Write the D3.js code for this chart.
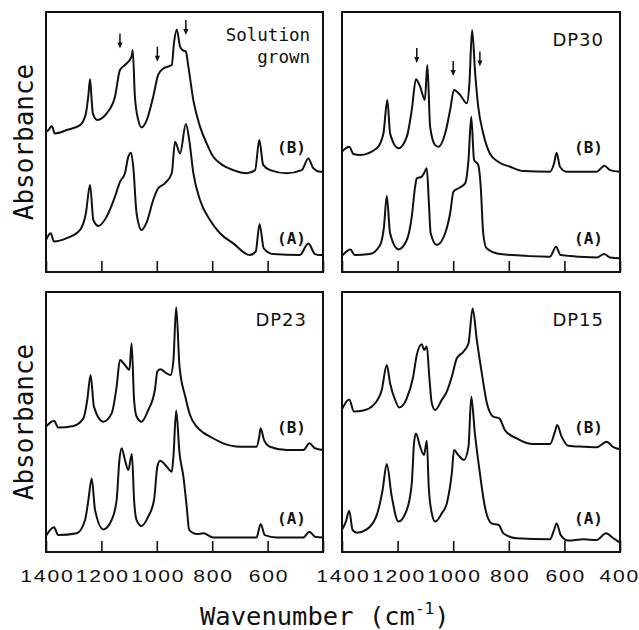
<!DOCTYPE html>
<html>
<head>
<meta charset="utf-8">
<script src="https://cdn.jsdelivr.net/npm/d3@7/dist/d3.min.js"></script>
<style>
  html, body { margin: 0; padding: 0; background: #fff; }
  svg { display: block; }
</style>
</head>
<body>
<svg id="chart" width="639" height="630"></svg>
<script>
// IR spectra, [wavenumber (cm-1), absorbance (arbitrary units)]
const wavenumberTicks = [1400, 1200, 1000, 800, 600, 400];

const solutionB = [[1400,0.54],[1392,0.545],[1379,0.562],[1368,0.533],[1325,0.546],[1277,0.565],[1256,0.61],[1247,0.68],[1241,0.741],[1235,0.66],[1231,0.61],[1215,0.585],[1181,0.61],[1151,0.674],[1133,0.777],[1115,0.796],[1091,0.828],[1087,0.854],[1079,0.674],[1067,0.585],[1055,0.556],[1036,0.585],[1013,0.674],[995,0.758],[976,0.783],[946,0.796],[938,0.88],[928,0.933],[916,0.867],[907,0.854],[895,0.847],[886,0.79],[868,0.66],[844,0.559],[820,0.495],[796,0.443],[772,0.418],[724,0.392],[675,0.38],[645,0.392],[630,0.508],[616,0.412],[591,0.392],[531,0.38],[477,0.392],[453,0.437],[435,0.399],[411,0.386],[400,0.386]];
const solutionA = [[1400,0.123],[1383,0.149],[1371,0.117],[1325,0.13],[1277,0.162],[1256,0.226],[1241,0.335],[1229,0.2],[1211,0.177],[1181,0.213],[1151,0.29],[1133,0.347],[1115,0.38],[1103,0.443],[1093,0.459],[1085,0.405],[1073,0.226],[1055,0.162],[1036,0.193],[1013,0.277],[995,0.322],[971,0.341],[946,0.38],[934,0.501],[916,0.456],[895,0.569],[883,0.508],[868,0.38],[844,0.277],[808,0.2],[772,0.149],[724,0.11],[664,0.065],[643,0.078],[629,0.185],[614,0.091],[580,0.069],[484,0.065],[453,0.11],[429,0.069],[411,0.065],[400,0.065]];

const dp30B = [[1400,0.463],[1374,0.482],[1359,0.454],[1335,0.45],[1275,0.476],[1251,0.533],[1237,0.662],[1227,0.533],[1197,0.476],[1167,0.52],[1149,0.623],[1134,0.741],[1119,0.713],[1102,0.662],[1093,0.796],[1083,0.559],[1065,0.488],[1053,0.482],[1029,0.533],[1011,0.623],[997,0.7],[975,0.681],[951,0.649],[942,0.72],[932,0.931],[921,0.764],[910,0.636],[892,0.533],[868,0.456],[838,0.424],[796,0.405],[748,0.388],[652,0.386],[637,0.418],[628,0.459],[616,0.405],[592,0.386],[484,0.386],[456,0.409],[436,0.392],[400,0.386]];
const dp30A = [[1400,0.062],[1370,0.087],[1354,0.065],[1300,0.069],[1263,0.104],[1249,0.174],[1239,0.292],[1227,0.149],[1197,0.087],[1167,0.123],[1149,0.213],[1137,0.328],[1131,0.36],[1113,0.367],[1105,0.38],[1095,0.399],[1088,0.277],[1081,0.149],[1059,0.104],[1029,0.149],[1011,0.226],[999,0.309],[981,0.322],[957,0.341],[945,0.431],[935,0.597],[925,0.431],[910,0.412],[901,0.328],[892,0.149],[880,0.091],[832,0.069],[652,0.059],[630,0.097],[614,0.065],[484,0.056],[457,0.069],[436,0.056],[400,0.053]];

const dp23B = [[1400,0.482],[1371,0.505],[1356,0.479],[1301,0.485],[1265,0.514],[1251,0.585],[1239,0.681],[1227,0.559],[1193,0.501],[1163,0.533],[1145,0.636],[1133,0.738],[1115,0.719],[1099,0.7],[1091,0.803],[1082,0.585],[1073,0.521],[1055,0.501],[1031,0.546],[1007,0.623],[998,0.694],[988,0.703],[964,0.687],[950,0.681],[940,0.738],[930,0.941],[918,0.713],[897,0.597],[880,0.527],[856,0.482],[832,0.459],[808,0.444],[760,0.418],[700,0.405],[640,0.405],[630,0.444],[625,0.476],[613,0.431],[592,0.405],[531,0.392],[471,0.392],[449,0.418],[429,0.399],[400,0.392]];
const dp23A = [[1400,0.062],[1371,0.095],[1356,0.065],[1289,0.072],[1259,0.123],[1247,0.2],[1235,0.283],[1223,0.162],[1193,0.087],[1163,0.123],[1145,0.2],[1135,0.354],[1127,0.399],[1115,0.354],[1103,0.315],[1090,0.377],[1082,0.2],[1073,0.123],[1055,0.1],[1031,0.136],[1010,0.2],[998,0.328],[988,0.351],[964,0.328],[946,0.309],[940,0.367],[930,0.544],[918,0.38],[904,0.29],[892,0.174],[883,0.085],[856,0.069],[832,0.072],[796,0.056],[640,0.056],[625,0.108],[610,0.065],[568,0.056],[471,0.056],[449,0.078],[429,0.059],[400,0.056]];

const dp15B = [[1400,0.549],[1374,0.587],[1357,0.54],[1323,0.544],[1287,0.565],[1257,0.623],[1239,0.719],[1227,0.649],[1209,0.585],[1194,0.556],[1167,0.591],[1144,0.674],[1131,0.758],[1113,0.799],[1105,0.777],[1095,0.79],[1086,0.674],[1077,0.572],[1065,0.546],[1041,0.585],[1023,0.617],[1005,0.674],[987,0.745],[963,0.771],[945,0.803],[930,0.937],[915,0.815],[897,0.687],[880,0.578],[856,0.521],[834,0.514],[814,0.469],[772,0.437],[712,0.415],[652,0.415],[634,0.463],[626,0.488],[610,0.444],[586,0.409],[532,0.405],[484,0.403],[448,0.424],[424,0.403],[400,0.395]];
const dp15A = [[1400,0.085],[1386,0.117],[1374,0.159],[1362,0.085],[1347,0.074],[1311,0.087],[1275,0.142],[1254,0.238],[1239,0.338],[1221,0.213],[1197,0.117],[1167,0.162],[1149,0.264],[1141,0.418],[1134,0.456],[1119,0.405],[1105,0.373],[1095,0.428],[1088,0.251],[1077,0.149],[1065,0.117],[1041,0.149],[1023,0.187],[1005,0.303],[997,0.392],[982,0.373],[961,0.354],[945,0.405],[935,0.597],[922,0.456],[904,0.303],[886,0.174],[862,0.11],[836,0.104],[820,0.072],[772,0.053],[652,0.049],[637,0.085],[628,0.11],[613,0.065],[586,0.044],[532,0.049],[484,0.046],[450,0.072],[424,0.053],[400,0.036]];

// arrow tips, [wavenumber, absorbance]
const solutionArrows = [[1133,0.86],[998,0.809],[895,0.912]];
const dp30Arrows = [[1131,0.804],[1000,0.754],[904,0.79]];

const panelLabels = [["Solution", "grown"], ["DP30"], ["DP23"], ["DP15"]];
const traceLabels = ["(B)", "(A)"];

// ---- layout ----
const cols = [[46, 323], [342, 620]];
const rows = [[12, 272], [292, 552]];

const panels = [
  { col: 0, row: 0, label: panelLabels[0], B: solutionB, A: solutionA, arrows: solutionArrows, mono: true },
  { col: 1, row: 0, label: panelLabels[1], B: dp30B, A: dp30A, arrows: dp30Arrows },
  { col: 0, row: 1, label: panelLabels[2], B: dp23B, A: dp23A, arrows: [] },
  { col: 1, row: 1, label: panelLabels[3], B: dp15B, A: dp15A, arrows: [] }
];

const svg = d3.select("#chart");
const ink = "#111";

panels.forEach(p => {
  const [x0, x1] = cols[p.col];
  const [y0, y1] = rows[p.row];
  const x = d3.scaleLinear().domain([1400, 400]).range([x0, x1]);
  const y = d3.scaleLinear().domain([0, 1]).range([y1, y0]);
  const g = svg.append("g");

  // inward ticks along the bottom, labels on the lower row only
  const showLabels = p.row === 1;
  const axis = d3.axisBottom(x)
    .tickValues(wavenumberTicks)
    .tickSizeInner(-11)
    .tickSizeOuter(0)
    .tickPadding(18)
    .tickFormat(d => (showLabels && !(p.col === 0 && d === 400)) ? d : "");
  const ax = g.append("g").attr("transform", `translate(0,${y1})`).call(axis);
  ax.select(".domain").remove();
  ax.selectAll(".tick line").attr("stroke", ink).attr("stroke-width", 1.6);
  ax.selectAll(".tick text")
    .attr("fill", ink)
    .attr("font-family", "Liberation Sans")
    .attr("font-size", 16.5)
    .attr("letter-spacing", 1.4)
    .attr("dx", d => d === 400 ? -0.6 : 0.7)
    .attr("transform", "scale(1.28,1)");

  // frame
  g.append("rect")
    .attr("x", x0).attr("y", y0)
    .attr("width", x1 - x0).attr("height", y1 - y0)
    .attr("fill", "none").attr("stroke", ink).attr("stroke-width", 2);

  const line = d3.line()
    .x(d => x(d[0]))
    .y(d => y(d[1]))
    .curve(d3.curveMonotoneX);

  [p.B, p.A].forEach(series => {
    g.append("path")
      .datum(series)
      .attr("d", line)
      .attr("fill", "none")
      .attr("stroke", ink)
      .attr("stroke-width", 2)
      .attr("stroke-linejoin", "round");
  });

  // trace labels
  traceLabels.forEach((t, i) => {
    g.append("text")
      .attr("x", x1 - 17)
      .attr("y", y0 + (i === 0 ? 141 : 232))
      .attr("text-anchor", "end")
      .attr("font-family", "DejaVu Sans Mono")
      .attr("font-size", 16)
      .attr("font-weight", "bold")
      .attr("fill", ink)
      .text(t);
  });

  // sample label
  if (p.mono) {
    p.label.forEach((t, i) => {
      g.append("text")
        .attr("x", x1 - 13)
        .attr("y", y0 + 29 + i * 22)
        .attr("text-anchor", "end")
        .attr("font-family", "DejaVu Sans Mono")
        .attr("font-size", 17.5)
        .attr("fill", ink)
        .text(t);
    });
  } else {
    g.append("text")
      .attr("x", x1 - 16)
      .attr("y", y0 + 34)
      .attr("text-anchor", "end")
      .attr("font-family", "DejaVu Sans")
      .attr("font-size", 18)
      .attr("letter-spacing", 1)
      .attr("fill", ink)
      .text(p.label[0]);
  }

  // arrows marking bands
  p.arrows.forEach(a => {
    const ax0 = x(a[0]), ay = y(a[1]);
    g.append("line")
      .attr("x1", ax0).attr("x2", ax0)
      .attr("y1", ay - 15).attr("y2", ay - 5)
      .attr("stroke", ink).attr("stroke-width", 1.5);
    g.append("path")
      .attr("d", `M${ax0 - 2.6},${ay - 6}L${ax0 + 2.6},${ay - 6}L${ax0},${ay}Z`)
      .attr("fill", ink);
  });
});

// axis titles
rows.forEach(([y0, y1]) => {
  svg.append("text")
    .attr("transform", `translate(33,${(y0 + y1) / 2}) rotate(-90)`)
    .attr("text-anchor", "middle")
    .attr("font-family", "DejaVu Sans Mono")
    .attr("font-size", 26)
    .attr("fill", ink)
    .text("Absorbance");
});

const title = svg.append("text")
  .attr("x", 200)
  .attr("y", 624.5)
  .attr("font-family", "DejaVu Sans Mono")
  .attr("font-size", 25.5)
  .attr("fill", ink);
title.append("tspan").text("Wavenumber (cm");
title.append("tspan").attr("font-size", 16).attr("dy", -11).text("-1");
title.append("tspan").attr("dy", 11).text(")");
</script>
</body>
</html>
